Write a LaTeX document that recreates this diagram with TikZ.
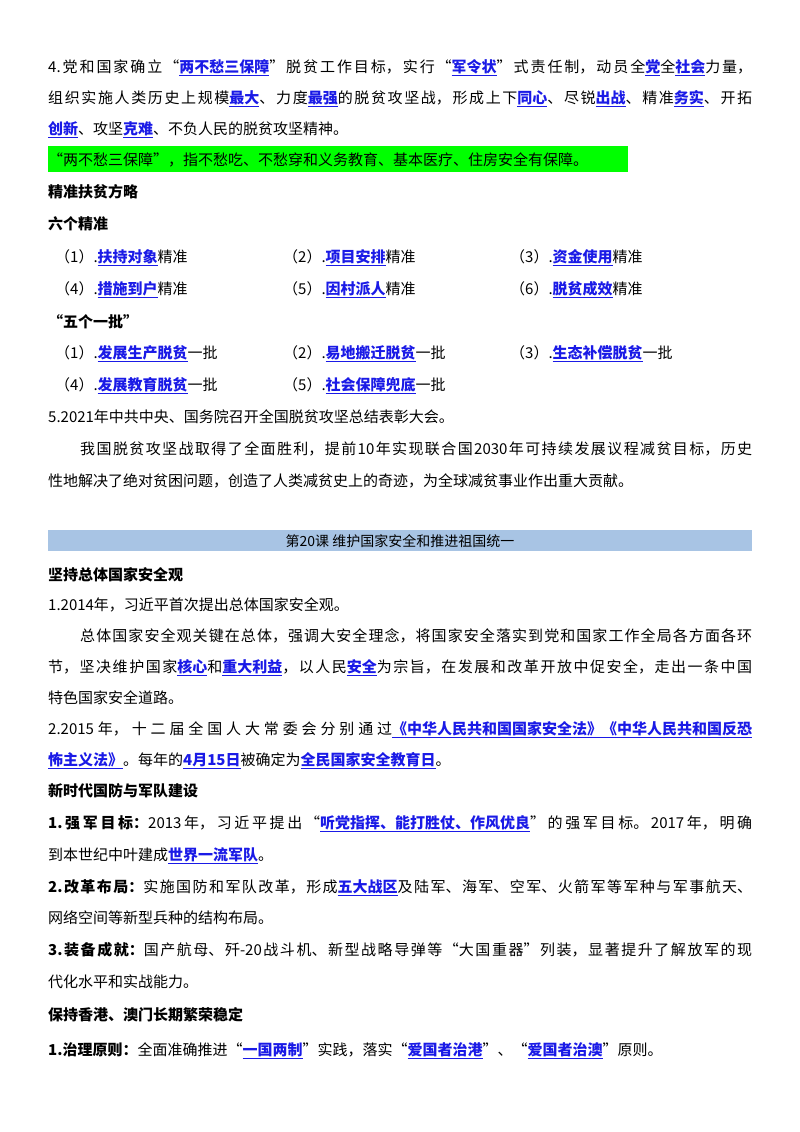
\documentclass[tikz,border=0pt]{standalone}
\usepackage{fontspec}
\setmainfont{Noto Sans CJK SC}
\definecolor{hlb}{HTML}{1A1AE6}
\definecolor{gbox}{HTML}{00FF00}
\definecolor{bbar}{HTML}{A8C4E4}
\newcommand{\hb}[1]{{\color{hlb}\bfseries\underline{#1}}}
\newcommand{\jline}[1]{\parbox[t]{704pt}{\XeTeXlinebreaklocale "zh"\XeTeXlinebreakskip=0pt plus 3pt\parfillskip=0pt\relax #1}}
\begin{document}
\begin{tikzpicture}[x=1pt,y=-1pt,every node/.style={inner sep=0pt,font=\fontsize{15}{18}\selectfont}]
\useasboundingbox (0,0) rectangle (800,1132);
\tikzset{L/.style={anchor=base west}}
\node[L] (l1) at (48,72) {\jline{4.党和国家确立“\hb{两不愁三保障}”脱贫工作目标，实行“\hb{军令状}”式责任制，动员全\hb{党}全\hb{社会}力量，}};
\node[L] (l2) at (48,103) {\jline{组织实施人类历史上规模\hb{最大}、力度\hb{最强}的脱贫攻坚战，形成上下\hb{同心}、尽锐\hb{出战}、精准\hb{务实}、开拓}};
\node[L] (l3) at (48,134) {\hb{创新}、攻坚\hb{克难}、不负人民的脱贫攻坚精神。};
\fill[gbox] (48,146) rectangle (628,172);
\node[L] (g) at (48,165) {“两不愁三保障”，指不愁吃、不愁穿和义务教育、基本医疗、住房安全有保障。};
\node[L] (h1) at (48,197) {\bfseries 精准扶贫方略};
\node[L] (h2) at (48,229) {\bfseries 六个精准};
\node[L] (a1) at (55,262) {（1）.\hb{扶持对象}精准};
\node[L] (a2) at (283,262) {（2）.\hb{项目安排}精准};
\node[L] (a3) at (510,262) {（3）.\hb{资金使用}精准};
\node[L] (a4) at (55,294) {（4）.\hb{措施到户}精准};
\node[L] (a5) at (283,294) {（5）.\hb{因村派人}精准};
\node[L] (a6) at (510,294) {（6）.\hb{脱贫成效}精准};
\node[L] (h3) at (48,327) {\bfseries “五个一批”};
\node[L] (b1) at (55,358) {（1）.\hb{发展生产脱贫}一批};
\node[L] (b2) at (283,358) {（2）.\hb{易地搬迁脱贫}一批};
\node[L] (b3) at (510,358) {（3）.\hb{生态补偿脱贫}一批};
\node[L] (b4) at (55,390) {（4）.\hb{发展教育脱贫}一批};
\node[L] (b5) at (283,390) {（5）.\hb{社会保障兜底}一批};
\node[L] (p5) at (48,422) {5.2021年中共中央、国务院召开全国脱贫攻坚总结表彰大会。};
\node[L] (p6) at (48,454) {\jline{\hspace*{32pt}我国脱贫攻坚战取得了全面胜利，提前10年实现联合国2030年可持续发展议程减贫目标，历史}};
\node[L] (p7) at (48,486) {性地解决了绝对贫困问题，创造了人类减贫史上的奇迹，为全球减贫事业作出重大贡献。};
\fill[bbar] (48,530) rectangle (752,551);
\node[anchor=base] (bar) at (400,546) {\fontsize{14}{16}\selectfont 第20课\ 维护国家安全和推进祖国统一};
\node[L] (s1) at (48,580) {\bfseries 坚持总体国家安全观};
\node[L] (s2) at (48,610) {1.2014年，习近平首次提出总体国家安全观。};
\node[L] (s3) at (48,641) {\jline{\hspace*{32pt}总体国家安全观关键在总体，强调大安全理念，将国家安全落实到党和国家工作全局各方面各环}};
\node[L] (s4) at (48,672) {\jline{节，坚决维护国家\hb{核心}和\hb{重大利益}，以人民\hb{安全}为宗旨，在发展和改革开放中促安全，走出一条中国}};
\node[L] (s5) at (48,703) {特色国家安全道路。};
\node[L] (s6) at (48,734) {\jline{2.2015年，十二届全国人大常委会分别通过\hb{《中华人民共和国国家安全法》《中华人民共和国反恐}}};
\node[L] (s7) at (48,765) {\hb{怖主义法》}。每年的\hb{4月15日}被确定为\hb{全民国家安全教育日}。};
\node[L] (t1) at (48,796) {\bfseries 新时代国防与军队建设};
\node[L] (t2) at (48,828) {\jline{\textbf{1.强军目标：}2013年，习近平提出“\hb{听党指挥、能打胜仗、作风优良}”的强军目标。2017年，明确}};
\node[L] (t3) at (48,860) {到本世纪中叶建成\hb{世界一流军队}。};
\node[L] (t4) at (48,892) {\jline{\textbf{2.改革布局：}实施国防和军队改革，形成\hb{五大战区}及陆军、海军、空军、火箭军等军种与军事航天、}};
\node[L] (t5) at (48,923) {网络空间等新型兵种的结构布局。};
\node[L] (t6) at (48,955) {\jline{\textbf{3.装备成就：}国产航母、歼-20战斗机、新型战略导弹等“大国重器”列装，显著提升了解放军的现}};
\node[L] (t7) at (48,987) {代化水平和实战能力。};
\node[L] (u1) at (48,1020) {\bfseries 保持香港、澳门长期繁荣稳定};
\node[L] (u2) at (48,1055) {\textbf{1.治理原则：}全面准确推进“\hb{一国两制}”实践，落实“\hb{爱国者治港}”、“\hb{爱国者治澳}”原则。};
\end{tikzpicture}
\end{document}
